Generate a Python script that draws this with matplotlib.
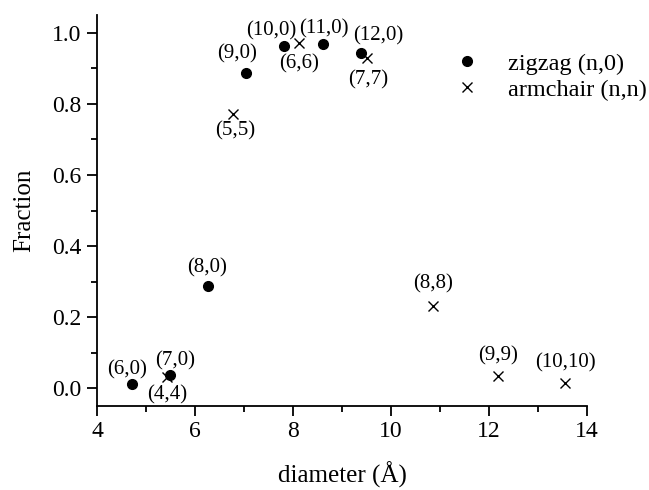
import matplotlib
matplotlib.use("Agg")
import matplotlib.pyplot as plt
from matplotlib.ticker import MultipleLocator

plt.rcParams['font.family'] = ['Liberation Serif', 'DejaVu Serif']

# ---------------- Data ----------------
zigzag_labels = ["(6,0)", "(7,0)", "(8,0)", "(9,0)", "(10,0)", "(11,0)", "(12,0)"]
zigzag_diam = [4.71, 5.49, 6.27, 7.05, 7.82, 8.62, 9.39]
zigzag_frac = [0.013, 0.037, 0.289, 0.888, 0.963, 0.969, 0.943]

armchair_labels = ["(4,4)", "(5,5)", "(6,6)", "(7,7)", "(8,8)", "(9,9)", "(10,10)"]
armchair_diam = [5.43, 6.78, 8.12, 9.50, 10.85, 12.19, 13.55]
armchair_frac = [0.031, 0.772, 0.971, 0.929, 0.231, 0.035, 0.016]

# label offsets from each marker, in points
label_offset = {
    "(6,0)": (-3.6, 9.8), "(7,0)": (3.6, 10.4), "(8,0)": (-0.7, 12.6),
    "(9,0)": (-6.5, 13.2), "(10,0)": (-9.4, 11.2), "(11,0)": (0, 10.4),
    "(12,0)": (12.2, 12.6),
    "(4,4)": (0, -12.6), "(5,5)": (1.4, -12.6), "(6,6)": (0, -15.2),
    "(7,7)": (1.4, -15.8), "(8,8)": (0, 16.0), "(9,9)": (0, 14.0),
    "(10,10)": (0, 14.0),
}

# ---------------- Plot ----------------
fig = plt.figure(figsize=(6.49, 4.90), dpi=100)
ax = fig.add_axes([0.1495, 0.1714, 0.755, 0.798])

ax.plot(zigzag_diam, zigzag_frac, linestyle="none", marker="o",
        markersize=7, color="black", label="zigzag (n,0)")
ax.plot(armchair_diam, armchair_frac, linestyle="none", marker="x",
        markersize=6.5, markeredgewidth=1.0, color="black",
        label="armchair (n,n)")

for lab, x, y in zip(zigzag_labels + armchair_labels,
                     zigzag_diam + armchair_diam,
                     zigzag_frac + armchair_frac):
    ax.annotate(lab, (x, y), xytext=label_offset[lab],
                textcoords="offset points", ha="center", va="center",
                fontsize=15)

ax.set_xlim(4, 14)
ax.set_ylim(-0.05, 1.05)
ax.xaxis.set_major_locator(MultipleLocator(2))
ax.xaxis.set_minor_locator(MultipleLocator(1))
ax.yaxis.set_major_locator(MultipleLocator(0.2))
ax.yaxis.set_minor_locator(MultipleLocator(0.1))
ax.yaxis.set_major_formatter(plt.FuncFormatter(lambda v, p: f"{v:.1f}"))

for side in ("top", "right"):
    ax.spines[side].set_visible(False)
for side in ("left", "bottom"):
    ax.spines[side].set_linewidth(1.3)

ax.tick_params(which="major", direction="out", length=7, width=1.3,
               labelsize=17, pad=4)
ax.tick_params(which="minor", direction="out", length=4, width=1.3)

ax.set_xlabel("diameter (Å)", fontsize=18, labelpad=14)
ax.set_ylabel("Fraction", fontsize=18, labelpad=12)

ax.legend(loc="upper left", bbox_to_anchor=(455 / 649, 0.892),
          bbox_transform=fig.transFigure, frameon=False, fontsize=17.5,
          handlelength=1.0, handletextpad=1.2, labelspacing=0.15,
          borderpad=0, borderaxespad=0)

fig.savefig("out.png", dpi=100)
